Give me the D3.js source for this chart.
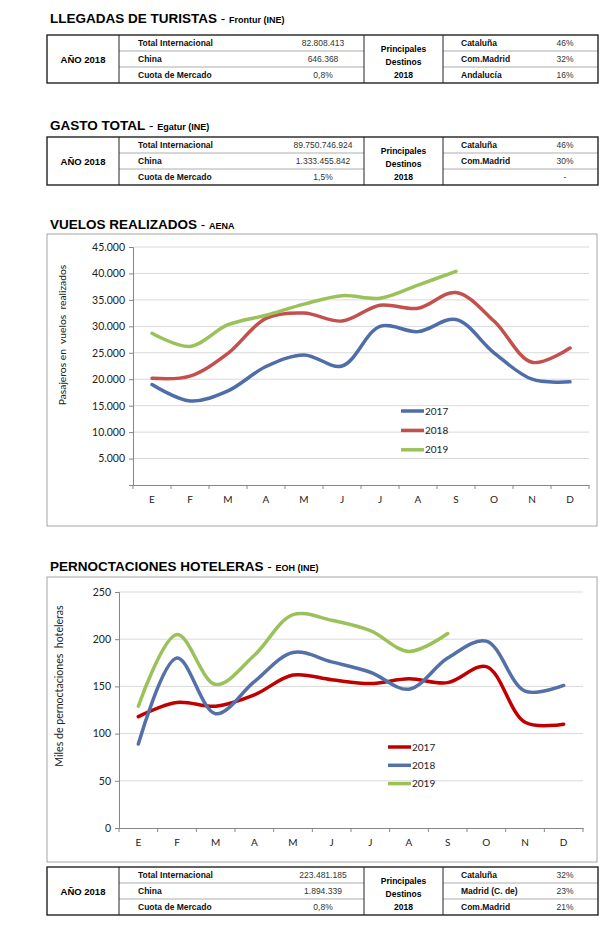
<!DOCTYPE html>
<html>
<head>
<meta charset="utf-8">
<script src="https://cdn.jsdelivr.net/npm/d3@7"></script>
<style>
  body { margin: 0; background: #fff; }
  svg text { font-family: "Liberation Sans", Arial, sans-serif; }
  .chart text { font-family: Lato, "Open Sans", sans-serif; }
</style>
</head>
<body>
<div id="page"></div>
<script>
// ---- data ----
var months = ["E", "F", "M", "A", "M", "J", "J", "A", "S", "O", "N", "D"];

var vuelos2017 = [19000, 15900, 17800, 22400, 24600, 22500, 30000, 29000, 31300, 25000, 20000, 19500];
var vuelos2018 = [20200, 20600, 24900, 31500, 32500, 31000, 34000, 33400, 36400, 31000, 23200, 25900];
var vuelos2019 = [28700, 26200, 30300, 32100, 34200, 35800, 35300, 37800, 40400];
var vuelosTicks = [5000, 10000, 15000, 20000, 25000, 30000, 35000, 40000, 45000];

var pern2017 = [118, 133, 129, 141, 162, 157, 153, 158, 154, 171, 112, 110];
var pern2018 = [89, 180, 121, 155, 186, 176, 165, 147, 180, 198, 145, 151];
var pern2019 = [129, 205, 152, 183, 226, 220, 209, 187, 206];
var pernTicks = [0, 50, 100, 150, 200, 250];

var seriesNames = ["2017", "2018", "2019"];

var llegadasRows = [["Total Internacional", "82.808.413"], ["China", "646.368"], ["Cuota de Mercado", "0,8%"]];
var llegadasDest = [["Cataluña", "46%"], ["Com.Madrid", "32%"], ["Andalucía", "16%"]];

var gastoRows = [["Total Internacional", "89.750.746.924"], ["China", "1.333.455.842"], ["Cuota de Mercado", "1,5%"]];
var gastoDest = [["Cataluña", "46%"], ["Com.Madrid", "30%"], ["", "-"]];

var pernRows = [["Total Internacional", "223.481.185"], ["China", "1.894.339"], ["Cuota de Mercado", "0,8%"]];
var pernDest = [["Cataluña", "32%"], ["Madrid (C. de)", "23%"], ["Com.Madrid", "21%"]];

var es = d3.formatLocale({decimal: ",", thousands: ".", grouping: [3], currency: ["", "€"]});
var fmt = es.format(",.0f");

var svg = d3.select("#page").append("svg")
    .attr("width", 612)
    .attr("height", 932);

function title(y, big, small) {
    var t = svg.append("text")
        .attr("x", 50)
        .attr("y", y)
        .attr("font-weight", "bold")
        .attr("fill", "#000");
    t.append("tspan").attr("font-size", 13.5).text(big);
    t.append("tspan").attr("font-size", 13.5).attr("font-weight", "normal").text(" - ");
    t.append("tspan").attr("font-size", 9).text(small);
}

// summary table under / above charts
function table(top, rows, dest) {
    var x0 = 47, x1 = 119, x2 = 364, x3 = 443, x4 = 598;
    var rh = 16;
    var g = svg.append("g").attr("transform", "translate(0," + top + ")");

    // inner row separators
    [1, 2].forEach(function(i) {
        g.append("line").attr("x1", x1).attr("x2", x2).attr("y1", i * rh).attr("y2", i * rh)
            .attr("stroke", "#999").attr("stroke-width", 0.8);
        g.append("line").attr("x1", x3).attr("x2", x4).attr("y1", i * rh).attr("y2", i * rh)
            .attr("stroke", "#999").attr("stroke-width", 0.8);
    });
    [x1, x2, x3].forEach(function(x) {
        g.append("line").attr("x1", x).attr("x2", x).attr("y1", 0).attr("y2", rh * 3)
            .attr("stroke", "#222").attr("stroke-width", 1);
    });
    g.append("rect").attr("x", x0).attr("y", 0).attr("width", x4 - x0).attr("height", rh * 3)
        .attr("fill", "none").attr("stroke", "#222").attr("stroke-width", 1.4);

    g.append("text").attr("x", (x0 + x1) / 2).attr("y", rh * 1.5 + 3.5)
        .attr("text-anchor", "middle").attr("font-size", 9.5).attr("font-weight", "bold")
        .text("AÑO 2018");

    rows.forEach(function(r, i) {
        g.append("text").attr("x", 138).attr("y", i * rh + 11)
            .attr("font-size", 8.5).attr("font-weight", "bold").attr("fill", "#111").text(r[0]);
        g.append("text").attr("x", 323).attr("y", i * rh + 11).attr("text-anchor", "middle")
            .attr("font-size", 8.5).attr("fill", "#333").text(r[1]);
    });
    ["Principales", "Destinos", "2018"].forEach(function(s, i) {
        g.append("text").attr("x", (x2 + x3) / 2).attr("y", 16.5 + i * 13)
            .attr("text-anchor", "middle").attr("font-size", 8.5).attr("font-weight", "bold").text(s);
    });
    dest.forEach(function(r, i) {
        g.append("text").attr("x", 461).attr("y", i * rh + 11)
            .attr("font-size", 8.5).attr("font-weight", "bold").attr("fill", "#111").text(r[0]);
        g.append("text").attr("x", 565).attr("y", i * rh + 11).attr("text-anchor", "middle")
            .attr("font-size", 8.5).attr("fill", "#333").text(r[1]);
    });
}

function lineChart(opt) {
    var g = svg.append("g").attr("class", "chart");

    g.append("rect").attr("x", 47).attr("y", opt.boxTop).attr("width", 550).attr("height", opt.boxH)
        .attr("fill", "#fff").attr("stroke", "#a6a6a6").attr("stroke-width", 1);

    var x = d3.scaleBand().domain(d3.range(months.length)).range([opt.left, opt.right]);
    var y = d3.scaleLinear().domain([0, opt.max]).range([opt.bottom, opt.top]);

    // gridlines
    g.append("g").selectAll("line").data(opt.ticks.filter(function(d) { return d > 0; }))
        .enter().append("line")
        .attr("x1", opt.left).attr("x2", opt.right)
        .attr("y1", function(d) { return y(d); }).attr("y2", function(d) { return y(d); })
        .attr("stroke", "#d9d9d9").attr("stroke-width", 1);

    var yAxis = d3.axisLeft(y).tickValues(d3.range(0, opt.max + 1, opt.step))
        .tickSize(4).tickPadding(4)
        .tickFormat(function(d) { return opt.ticks.indexOf(d) >= 0 ? opt.fmt(d) : ""; });
    var yg = g.append("g").attr("transform", "translate(" + opt.left + ",0)").call(yAxis);
    yg.select(".domain").attr("stroke", "#868686");
    yg.selectAll(".tick line").attr("stroke", "#868686");
    yg.selectAll("text").attr("font-size", 10.5).attr("fill", "#222")
        .attr("font-family", "Lato, sans-serif");

    var xAxis = d3.axisBottom(x).tickSize(0).tickPadding(11)
        .tickFormat(function(i) { return months[i]; });
    var xg = g.append("g").attr("transform", "translate(0," + opt.bottom + ")").call(xAxis);
    xg.select(".domain").attr("stroke", "#868686");
    xg.selectAll("text").attr("font-size", 10).attr("fill", "#222")
        .attr("font-family", "Lato, sans-serif");
    // tick marks between categories
    xg.selectAll(".sep").data(d3.range(months.length + 1)).enter().append("line")
        .attr("x1", function(i) { return opt.left + i * x.step(); })
        .attr("x2", function(i) { return opt.left + i * x.step(); })
        .attr("y1", 0).attr("y2", 4).attr("stroke", "#868686");

    g.append("text")
        .attr("transform", "translate(" + opt.labelX + "," + opt.labelY + ") rotate(-90)")
        .attr("text-anchor", "middle").attr("font-size", opt.labelSize).attr("fill", "#222")
        .attr("xml:space", "preserve")
        .style("white-space", "pre")
        .text(opt.label);

    var line = d3.line()
        .x(function(d, i) { return x(i) + x.bandwidth() / 2; })
        .y(function(d) { return y(d); })
        .curve(d3.curveCatmullRom.alpha(0.5));

    opt.series.forEach(function(s, k) {
        g.append("path").datum(s).attr("d", line)
            .attr("fill", "none").attr("stroke", opt.colors[k])
            .attr("stroke-width", 3.5).attr("stroke-linecap", "round");

        var ly = opt.legendY + k * opt.legendGap;
        g.append("line").attr("x1", opt.legendX).attr("x2", opt.legendX + 23)
            .attr("y1", ly).attr("y2", ly)
            .attr("stroke", opt.colors[k]).attr("stroke-width", 3.5);
        g.append("text").attr("x", opt.legendX + 24).attr("y", ly + 3.5)
            .attr("font-size", 10).attr("fill", "#222").text(seriesNames[k]);
    });
}

title(23, "LLEGADAS DE TURISTAS", "Frontur (INE)");
table(35, llegadasRows, llegadasDest);

title(130, "GASTO TOTAL", "Egatur (INE)");
table(137, gastoRows, gastoDest);

title(229, "VUELOS REALIZADOS", "AENA");
lineChart({
    boxTop: 234, boxH: 292,
    left: 133, right: 589, top: 247, bottom: 485,
    max: 45000, step: 5000, ticks: vuelosTicks, fmt: fmt,
    series: [vuelos2017, vuelos2018, vuelos2019],
    colors: ["#4f6ea9", "#c4504d", "#9bc25a"],
    label: "Pasajeros en  vuelos  realizados", labelX: 66, labelY: 335, labelSize: 10.3,
    legendX: 401, legendY: 411, legendGap: 19.4
});

title(571, "PERNOCTACIONES HOTELERAS", "EOH (INE)");
lineChart({
    boxTop: 577, boxH: 285,
    left: 119, right: 583, top: 592, bottom: 828,
    max: 250, step: 50, ticks: pernTicks, fmt: d3.format("d"),
    series: [pern2017, pern2018, pern2019],
    colors: ["#c00000", "#5470a8", "#9bc25a"],
    label: "Miles de pernoctaciones  hoteleras", labelX: 63, labelY: 686, labelSize: 10.6,
    legendX: 388, legendY: 747, legendGap: 18.3
});

table(867, pernRows, pernDest);
</script>
</body>
</html>
